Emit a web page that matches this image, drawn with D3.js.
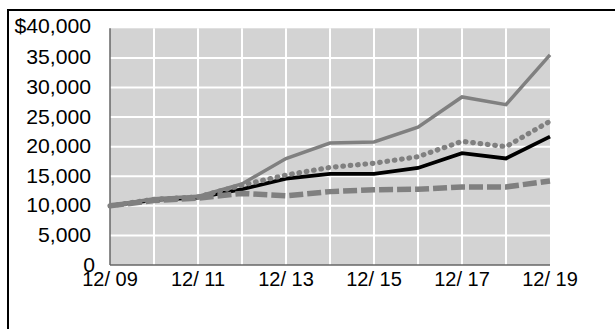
<!DOCTYPE html>
<html>
<head>
<meta charset="utf-8">
<script src="https://cdn.jsdelivr.net/npm/d3@7"></script>
<style>
  body { margin: 0; background: #fff; }
  svg { display: block; font-family: Arial, "Liberation Sans", sans-serif; }
</style>
</head>
<body>
<svg id="chart" width="615" height="329"></svg>
<script>
// years on the x axis, one point per year-end
let years = [2009, 2010, 2011, 2012, 2013, 2014, 2015, 2016, 2017, 2018, 2019];
let xTickYears = [2009, 2011, 2013, 2015, 2017, 2019];
let yTicks = [0, 5000, 10000, 15000, 20000, 25000, 30000, 35000, 40000];

// the four growth-of-$10,000 series
let graySolid = [10000, 11200, 11600, 13700, 18000, 20600, 20800, 23300, 28400, 27100, 35500];
let grayDotted = [10000, 11100, 11500, 13500, 15200, 16500, 17200, 18300, 20900, 20000, 24300];
let blackSolid = [10000, 11000, 11400, 12800, 14600, 15400, 15400, 16400, 18900, 18000, 21700];
let grayDashed = [10000, 10900, 11300, 12100, 11700, 12400, 12700, 12800, 13200, 13200, 14200];

let svg = d3.select("#chart");

// outer frame
svg.append("rect")
    .attr("x", 8).attr("y", 10)
    .attr("width", 640).attr("height", 340)
    .attr("fill", "none").attr("stroke", "#000").attr("stroke-width", 2);

let x = d3.scaleLinear().domain([2009, 2019]).range([110, 550]);
let y = d3.scaleLinear().domain([0, 40000]).range([265, 28.3]);

// plot background
svg.append("rect")
    .attr("x", x(2009)).attr("y", y(40000))
    .attr("width", x(2019) - x(2009)).attr("height", y(0) - y(40000))
    .attr("fill", "#d3d3d3");

// white grid
svg.append("g").selectAll("line")
    .data(years.slice(1, -1))
    .enter().append("line")
    .attr("x1", d => x(d)).attr("x2", d => x(d))
    .attr("y1", y(40000)).attr("y2", y(0))
    .attr("stroke", "#fff").attr("stroke-width", 2);

svg.append("g").selectAll("line")
    .data(yTicks.slice(1, -1))
    .enter().append("line")
    .attr("x1", x(2009)).attr("x2", x(2019))
    .attr("y1", d => y(d)).attr("y2", d => y(d))
    .attr("stroke", "#fff").attr("stroke-width", 2);

// axis lines
svg.append("line")
    .attr("x1", x(2009)).attr("x2", x(2009))
    .attr("y1", y(40000)).attr("y2", y(0))
    .attr("stroke", "#666").attr("stroke-width", 1.5);
svg.append("line")
    .attr("x1", x(2009)).attr("x2", x(2019))
    .attr("y1", y(0)).attr("y2", y(0))
    .attr("stroke", "#666").attr("stroke-width", 1.5);

// y labels
let fmt = d3.format(",");
svg.append("g").selectAll("text")
    .data(yTicks)
    .enter().append("text")
    .attr("text-anchor", "end")
    .attr("font-size", "20px")
    .attr("fill", "#000")
    .attr("transform", function(d) {
        let tx = d == 0 ? 95 : 91;
        let ty = d == 40000 ? y(d) + 4.2 : y(d) + 6.5;
        return "translate(" + tx + "," + ty + ") scale(1.06,1)";
    })
    .text(d => d == 40000 ? "$" + fmt(d) : fmt(d));

// x labels
svg.append("g").selectAll("text")
    .data(xTickYears)
    .enter().append("text")
    .attr("text-anchor", "middle")
    .attr("font-size", "20px")
    .attr("fill", "#000")
    .attr("transform", d => "translate(" + x(d) + ",285.5)")
    .text(d => "12/ " + String(d).slice(2));

let line = d3.line()
    .x((d, i) => x(years[i]))
    .y(d => y(d));

// black first, grays drawn on top
svg.append("path").datum(blackSolid)
    .attr("d", line).attr("fill", "none")
    .attr("stroke", "#000").attr("stroke-width", 3.8);

svg.append("path").datum(graySolid)
    .attr("d", line).attr("fill", "none")
    .attr("stroke", "#808080").attr("stroke-width", 3.5);

svg.append("path").datum(grayDotted)
    .attr("d", line).attr("fill", "none")
    .attr("stroke", "#808080").attr("stroke-width", 5.2)
    .attr("stroke-linecap", "round")
    .attr("stroke-dasharray", "0.6,6.8");

svg.append("path").datum(grayDashed)
    .attr("d", line).attr("fill", "none")
    .attr("stroke", "#808080").attr("stroke-width", 5.5)
    .attr("stroke-dasharray", "14,4");
</script>
</body>
</html>
